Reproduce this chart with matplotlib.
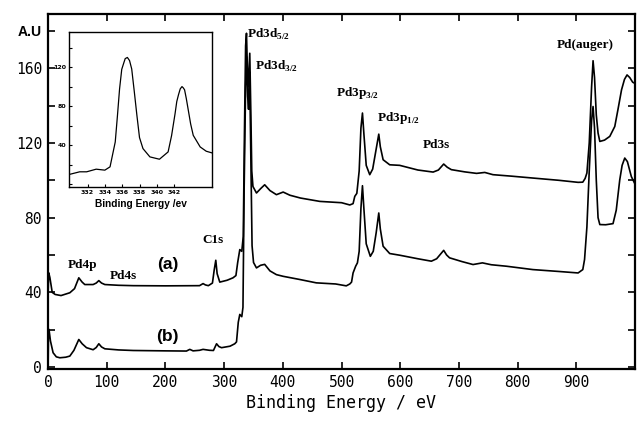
import matplotlib
matplotlib.use('Agg')
import matplotlib.pyplot as plt
from matplotlib.ticker import MultipleLocator

plt.rcParams['mathtext.fontset'] = 'custom'
plt.rcParams['mathtext.rm'] = 'Liberation Serif:bold'
plt.rcParams['mathtext.bf'] = 'Liberation Serif:bold'

# survey spectrum (a): binding energy, intensity
curve_a = [(0, 40), (1, 50.5), (3, 48), (7, 40), (12, 38.9), (22, 38.3), (37, 39.8), (45, 42),
           (52.3, 47.8), (58, 45.5), (62.5, 44.2), (76.7, 44.2), (82, 45), (86.4, 46.3), (91, 45),
           (96.7, 44.2), (120, 43.8), (145, 43.6), (200, 43.5), (258, 43.6), (264, 44.7), (268, 44),
           (273, 43.6), (280, 45), (283, 52), (285.7, 57.2), (288, 50), (292.5, 45.5), (305, 46.5),
           (315, 47.8), (320, 49), (323, 56), (326.6, 62.9), (330, 62), (332.5, 70), (334.5, 125),
           (336.5, 172), (338, 178.7), (339.5, 160), (341, 150), (343.6, 168), (345.5, 135),
           (347, 105), (349, 96.7), (355, 93.2), (362, 95.5), (369, 97.6), (378, 94.5), (389, 92.3),
           (400.5, 93.7), (412, 92), (430, 90.5), (463, 88.7), (500, 88), (514, 86.8), (519.6, 87.5),
           (522.5, 91.4), (526, 93), (530, 105), (533, 128), (535.6, 136), (538, 125), (542, 108),
           (548, 103), (553, 106), (558, 115), (563.4, 124.7), (566, 118), (570.8, 111), (582, 108.3),
           (599, 108), (630, 105.5), (656, 104.4), (665, 105.5), (674, 108.7), (680, 107),
           (687, 105.7), (710, 104.5), (730, 103.7), (744, 104.2), (758, 103), (790, 102.2),
           (826, 101.2), (870, 100), (903, 98.9), (911, 99), (915, 101), (918, 103.9), (922, 120),
           (926, 150), (928.5, 164), (931, 155), (934, 135), (937, 125.3), (940, 120.8),
           (948, 121.5), (957, 123.5), (965.5, 128.8), (971, 138), (977, 148.4), (982, 154),
           (986.4, 156.4), (991, 155), (996, 152.5), (999, 152)]

# survey spectrum (b)
curve_b = [(0, 1), (0.5, 15), (1.5, 20.2), (4, 14), (8.5, 7.7), (14, 5.5), (20, 5), (30, 5.3),
           (37, 5.9), (44, 9), (52.3, 14.8), (58, 12.5), (65.4, 10.4), (76.7, 9.3), (82, 10.5),
           (86.4, 12.5), (91, 10.8), (96.7, 9.8), (120, 9.2), (145, 8.9), (200, 8.7), (235.7, 8.6),
           (241.4, 9.5), (247, 8.7), (258, 9), (264, 9.5), (275, 9), (281.7, 8.9), (287, 12.5),
           (291, 11), (295.5, 10.4), (310, 11.2), (318, 12.5), (321, 13.5), (324, 24), (326.6, 28.2),
           (330, 27), (332, 32), (334, 95), (336.5, 150), (338.3, 166), (340, 145), (341.5, 138),
           (343.4, 158), (345.3, 115), (347.5, 65), (350, 56), (355, 53.1), (362, 54.5), (369, 55),
           (378, 51.5), (389, 49.5), (400.5, 48.6), (428.8, 46.9), (457, 45.1), (490, 44.5),
           (508, 43.5), (514, 44.5), (517, 45.5), (519.6, 50.4), (524, 54), (527, 55.8), (530, 62),
           (533, 85), (535.6, 97.1), (538, 85), (542, 66), (549, 59.3), (554, 62), (559, 72),
           (563.4, 82.5), (566, 74), (570.8, 64.7), (582, 60.8), (599, 59.9), (630, 58),
           (653, 56.7), (662, 58), (674, 62.5), (679, 60), (684, 58.5), (705, 56.5), (724, 54.9),
           (740, 55.8), (755, 54.8), (781, 54), (826, 52.2), (870, 51.2), (903, 50.4), (911, 52.2),
           (914, 57.6), (918, 75), (922, 105), (926, 132), (928.5, 139.5), (931, 128), (934, 100),
           (937, 80), (940, 76.3), (950, 76.2), (962.5, 76.8), (968, 84), (974, 100.3), (978, 108),
           (982.5, 111.9), (987, 110), (993.7, 102), (999, 98.6)]

# Pd 3d high resolution inset
inset_curve = [(329.9, 10.2), (331.1, 12.9), (331.9, 12.9), (333.0, 15.6), (334.0, 14.6),
               (334.6, 18), (335.2, 43.5), (335.45, 70), (335.7, 98), (335.95, 118), (336.2, 125),
               (336.35, 129), (336.6, 130.2), (336.85, 127), (337.1, 118.4), (337.4, 95),
               (337.7, 70.7), (338.0, 48), (338.4, 36.7), (339.2, 28.2), (340.3, 25.8),
               (341.3, 33.3), (341.7, 50), (342.1, 72.4), (342.3, 85), (342.5, 92), (342.7, 98),
               (342.9, 100.3), (343.05, 99), (343.2, 97), (343.4, 88), (343.6, 77.6), (343.9, 62),
               (344.2, 50.3), (345, 38.4), (345.7, 34), (346.4, 32.2)]

# peak labels: text, x, y
peak_labels = [('Pd4p', 34, 54.9), ('Pd4s', 105, 49), ('C1s', 263, 68.3),
               (r'Pd3d$_{5/2}$', 339, 177.8), (r'Pd3d$_{3/2}$', 352, 160.9),
               (r'Pd3p$_{3/2}$', 491, 146.7), (r'Pd3p$_{1/2}$', 560, 133.3),
               ('Pd3s', 639, 119), ('Pd(auger)', 866, 172.5)]

x_ticks = [0, 100, 200, 300, 400, 500, 600, 700, 800, 900]
y_ticks = [0, 20, 40, 60, 80, 100, 120, 140, 160, 180]
y_ticklabels = ['0', '', '40', '', '80', '', '120', '', '160', 'A.U']

mono = 'DejaVu Sans Mono'

fig = plt.figure(figsize=(6.37, 4.30), dpi=100)
ax = fig.add_axes([0.0746, 0.1419, 0.9223, 0.8255])

xa, ya = zip(*curve_a)
xb, yb = zip(*curve_b)
ax.plot(xa, ya, color='black', lw=1.2)
ax.plot(xb, yb, color='black', lw=1.2)

ax.set_xlim(-1, 1000)
ax.set_ylim(-1, 189)
ax.set_xticks(x_ticks)
ax.set_yticks(y_ticks)
ax.set_yticklabels(y_ticklabels)
ax.tick_params(direction='in', length=5, width=1.2, top=True, right=True,
               labelsize=10.5, pad=4)
for lab in ax.get_xticklabels() + ax.get_yticklabels():
    lab.set_fontfamily(mono)
au = ax.get_yticklabels()[-1]
au.set_fontfamily('Liberation Sans')
au.set_fontweight('bold')
au.set_fontsize(10)
for sp in ax.spines.values():
    sp.set_linewidth(1.6)
ax.set_xlabel('Binding Energy / eV', fontfamily=mono, fontsize=12, labelpad=3)

for txt, x, y in peak_labels:
    ax.text(x, y, txt, fontfamily='Liberation Serif', fontweight='bold',
            fontsize=9.5, va='center', ha='left')
ax.text(204, 54.9, '(a)', fontfamily='Liberation Sans', fontweight='bold',
        fontsize=12.5, ha='center', va='center')
ax.text(204, 16.6, '(b)', fontfamily='Liberation Sans', fontweight='bold',
        fontsize=12.5, ha='center', va='center')

# inset
ins = fig.add_axes([0.1088, 0.5644, 0.2245, 0.3605])
xi, yi = zip(*inset_curve)
ins.plot(xi, yi, color='black', lw=0.9)
ins.set_xlim(329.9, 346.4)
ins.set_ylim(-3, 156)
ins.set_xticks(range(332, 343, 2))
ins.set_yticks([40, 80, 120])
ins.yaxis.set_minor_locator(MultipleLocator(20))
ins.tick_params(which='both', direction='in', length=2.5, width=0.8,
                labelsize=4.5, pad=2)
for lab in ins.get_xticklabels() + ins.get_yticklabels():
    lab.set_fontweight('bold')
for sp in ins.spines.values():
    sp.set_linewidth(1.0)
ins.set_xlabel('Binding Energy /ev', fontfamily='Liberation Sans',
               fontweight='bold', fontsize=7.3, labelpad=3)

fig.savefig('out.png', dpi=100)
